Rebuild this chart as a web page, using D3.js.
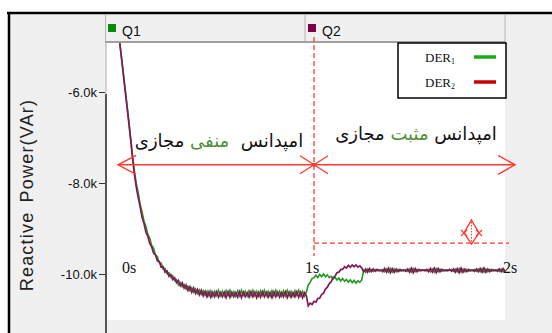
<!DOCTYPE html>
<html><head><meta charset="utf-8">
<script src="https://cdn.jsdelivr.net/npm/d3@7"></script>
<style>body{margin:0;background:#fff}svg{display:block}</style>
</head><body><svg id="c" width="552" height="333"></svg>
<script>
// ---- data (kVAr), sampled every 0.01 s starting at t = -0.02 s ----
const tStart = -0.02, dt = 0.01;
const der1 = [
 -4.80,-5.16,
 -5.52,-5.89,-6.25,-6.62,-7.00,-7.40,-7.74,-8.02,-8.22,-8.47,
 -8.64,-8.84,-8.95,-9.13,-9.21,-9.37,-9.43,-9.58,-9.62,-9.75,
 -9.76,-9.89,-9.88,-9.99,-9.97,-10.07,-10.04,-10.15,-10.12,-10.24,
 -10.19,-10.28,-10.23,-10.33,-10.27,-10.37,-10.30,-10.40,-10.33,-10.43,
 -10.35,-10.45,-10.37,-10.47,-10.38,-10.48,-10.37,-10.49,-10.38,-10.47,
 -10.36,-10.48,-10.38,-10.49,-10.37,-10.47,-10.36,-10.48,-10.39,-10.49,
 -10.37,-10.48,-10.36,-10.47,-10.38,-10.49,-10.37,-10.48,-10.36,-10.48,
 -10.38,-10.49,-10.37,-10.47,-10.36,-10.48,-10.38,-10.49,-10.37,-10.48,
 -10.36,-10.47,-10.38,-10.49,-10.37,-10.48,-10.36,-10.48,-10.38,-10.49,
 -10.37,-10.47,-10.36,-10.48,-10.38,-10.49,-10.40,-10.24,-10.18,-10.10,
 -10.08,-10.03,-10.08,-10.01,-10.06,-10.00,-10.06,-10.02,-10.08,-10.05,
 -10.11,-10.07,-10.13,-10.09,-10.15,-10.10,-10.16,-10.12,-10.18,-10.13,
 -10.19,-10.14,-10.20,-10.15,-10.18,-10.13,-9.92,-9.96,-9.89,-9.95,
 -9.90,-9.94,-9.90,-9.93,-9.91,-9.93,-9.90,-9.95,-9.89,-9.96,
 -9.88,-9.96,-9.89,-9.95,-9.90,-9.94,-9.91,-9.93,-9.90,-9.94,
 -9.89,-9.96,-9.88,-9.95,-9.90,-9.93,-9.91,-9.92,-9.91,-9.93,
 -9.90,-9.95,-9.89,-9.96,-9.88,-9.95,-9.89,-9.94,-9.91,-9.93,
 -9.91,-9.92,-9.90,-9.94,-9.89,-9.95,-9.88,-9.96,-9.89,-9.95,
 -9.90,-9.94,-9.91,-9.93,-9.90,-9.94,-9.89,-9.95,-9.88,-9.96,
 -9.89,-9.95,-9.90,-9.94,-9.91,-9.93,-9.90,-9.94,-9.89,-9.95,
 -9.90
];
const der2 = [
 -4.82,-5.18,
 -5.55,-5.92,-6.29,-6.66,-7.05,-7.46,-7.82,-8.10,-8.33,-8.53,
 -8.76,-8.89,-9.08,-9.17,-9.33,-9.40,-9.54,-9.58,-9.71,-9.73,
 -9.85,-9.84,-9.96,-9.93,-10.05,-10.01,-10.12,-10.08,-10.19,-10.14,
 -10.26,-10.19,-10.31,-10.24,-10.36,-10.28,-10.40,-10.31,-10.43,-10.34,
 -10.46,-10.36,-10.48,-10.38,-10.50,-10.39,-10.51,-10.40,-10.50,-10.39,
 -10.51,-10.41,-10.50,-10.40,-10.52,-10.39,-10.51,-10.40,-10.50,-10.41,
 -10.51,-10.39,-10.52,-10.40,-10.50,-10.41,-10.51,-10.39,-10.50,-10.40,
 -10.52,-10.41,-10.51,-10.39,-10.50,-10.40,-10.51,-10.41,-10.52,-10.39,
 -10.50,-10.40,-10.51,-10.41,-10.50,-10.39,-10.52,-10.40,-10.51,-10.41,
 -10.50,-10.39,-10.51,-10.40,-10.52,-10.41,-10.48,-10.70,-10.64,-10.67,
 -10.60,-10.62,-10.54,-10.53,-10.45,-10.42,-10.33,-10.29,-10.21,-10.17,
 -10.08,-10.05,-9.97,-9.96,-9.90,-9.90,-9.84,-9.87,-9.81,-9.85,
 -9.80,-9.84,-9.80,-9.85,-9.82,-9.87,-9.95,-9.89,-9.96,-9.88,
 -9.95,-9.89,-9.94,-9.90,-9.93,-9.91,-9.95,-9.88,-9.96,-9.87,
 -9.97,-9.88,-9.96,-9.89,-9.95,-9.90,-9.93,-9.91,-9.94,-9.89,
 -9.96,-9.87,-9.97,-9.88,-9.95,-9.90,-9.93,-9.91,-9.93,-9.90,
 -9.95,-9.88,-9.96,-9.87,-9.97,-9.88,-9.95,-9.90,-9.93,-9.91,
 -9.93,-9.90,-9.94,-9.89,-9.96,-9.88,-9.97,-9.87,-9.96,-9.89,
 -9.95,-9.90,-9.93,-9.91,-9.94,-9.89,-9.95,-9.88,-9.96,-9.87,
 -9.96,-9.89,-9.95,-9.90,-9.93,-9.91,-9.94,-9.89,-9.95,-9.88,
 -9.94
];
const yTicks = [-10, -8, -6];
const timeMarks = [0, 1, 2];
const timeLabels = ["0s", "1s", "2s"];
const headerLabels = ["Q1", "Q2"];
const legendNames = ["DER", "DER"];
const legendSubs = ["1", "2"];
const negWords = ["امپدانس", "منفی", "مجازی"];
const posWords = ["امپدانس", "مثبت", "مجازی"];
const switchTime = 1;
const refLevel = -9.32;   // horizontal dashed reference (kVAr)
const arrowLevel = -7.6;  // level of the red arrow

// ---- drawing ----
const svg = d3.select("#c");
const L = 106, R = 505, T = 43, B = 320;
const x = d3.scaleLinear().domain([0, 2]).range([123, 505]);
const y = d3.scaleLinear().domain([-10, -6]).range([274, 92]);

svg.append("rect").attr("width", 552).attr("height", 333).attr("fill", "#fff");
svg.append("rect").attr("x", 10).attr("y", 14).attr("width", 542).attr("height", 319).attr("fill", "#f0f0f0");
svg.append("rect").attr("x", L).attr("y", T).attr("width", R - L).attr("height", B - T).attr("fill", "#fff");

// outer frame
svg.append("line").attr("x1", 7).attr("x2", 552).attr("y1", 13).attr("y2", 13).attr("stroke", "#000").attr("stroke-width", 2.5);
svg.append("line").attr("x1", 9).attr("x2", 9).attr("y1", 12).attr("y2", 333).attr("stroke", "#000").attr("stroke-width", 2.5);

// header
const hdr = svg.append("g");
hdr.append("line").attr("x1", L - 0.5).attr("x2", L - 0.5).attr("y1", 15).attr("y2", 43).attr("stroke", "#b4b4b4");
hdr.append("line").attr("x1", 305).attr("x2", 305).attr("y1", 15).attr("y2", 42).attr("stroke", "#b4b4b4");
hdr.append("line").attr("x1", R).attr("x2", R).attr("y1", 15).attr("y2", 42).attr("stroke", "#b4b4b4");
hdr.append("line").attr("x1", L - 1).attr("x2", R + 0.5).attr("y1", 42).attr("y2", 42).attr("stroke", "#a0a0a0").attr("stroke-width", 2);
const hdrColors = ["#0a8a0a", "#800045"];
const hdrX = [108, 308];
headerLabels.forEach((lab, i) => {
  hdr.append("rect").attr("x", hdrX[i]).attr("y", 24).attr("width", 8).attr("height", 8).attr("fill", hdrColors[i]);
  hdr.append("text").attr("x", hdrX[i] + 14).attr("y", 36).attr("font-family", "Liberation Sans, Arial, sans-serif")
    .attr("font-size", 14).attr("fill", "#111").text(lab);
});

// y axis
svg.append("line").attr("x1", L).attr("x2", L).attr("y1", T).attr("y2", 94).attr("stroke", "#b0b0b0");
svg.append("line").attr("x1", L).attr("x2", L).attr("y1", 94).attr("y2", 333).attr("stroke", "#555").attr("stroke-width", 2);
const ax = svg.append("g").attr("transform", `translate(${L - 1},0)`)
  .call(d3.axisLeft(y).tickValues(yTicks).tickSize(6).tickPadding(2).tickFormat(d => d.toFixed(1) + "k"));
ax.select(".domain").remove();
ax.selectAll("line").attr("stroke", "#333");
ax.selectAll("text").attr("font-family", "Liberation Sans, Arial, sans-serif").attr("font-size", 13).attr("fill", "#111");

svg.append("text").attr("transform", "translate(33,195) rotate(-90)").attr("text-anchor", "middle")
  .attr("font-family", "Liberation Sans, Arial, sans-serif").attr("font-size", 18).attr("letter-spacing", 1.2)
  .attr("word-spacing", 3).attr("fill", "#222").text("Reactive Power(VAr)");

// curves
svg.append("clipPath").attr("id", "pc").append("rect").attr("x", L + 1).attr("y", T).attr("width", R - L - 1).attr("height", B - T);
const line = d3.line().x((d, i) => x(tStart + i * dt)).y(d => y(d));
const cg = svg.append("g").attr("clip-path", "url(#pc)");
cg.append("path").datum(der1).attr("d", line).attr("fill", "none").attr("stroke", "#1f9a1f").attr("stroke-width", 1.6);
cg.append("path").datum(der2).attr("d", line).attr("fill", "none").attr("stroke", "#86185a").attr("stroke-width", 1.7);

// time labels
const tdx = [-1, -9, -2];
timeLabels.forEach((lab, i) => {
  svg.append("text").attr("x", x(timeMarks[i]) + tdx[i]).attr("y", 273).attr("font-family", "Liberation Serif, Times New Roman, serif")
    .attr("font-size", 16).attr("fill", "#111").text(lab);
});

// red annotations
const red = "#ff3a30";
const ag = svg.append("g").attr("stroke", red).attr("fill", "none");
const xs = x(switchTime), ya = y(arrowLevel), yr = y(refLevel);
ag.append("line").attr("x1", xs).attr("x2", xs).attr("y1", 37).attr("y2", 256).attr("stroke-width", 1.3).attr("stroke-dasharray", "5,3");
ag.append("line").attr("x1", xs).attr("x2", 509).attr("y1", yr).attr("y2", yr).attr("stroke-width", 1.3).attr("stroke-dasharray", "5,3");
ag.append("line").attr("x1", 118).attr("x2", 515).attr("y1", ya).attr("y2", ya).attr("stroke-width", 1.4);
ag.append("path").attr("d", `M136,${ya - 9.5}L118,${ya}L136,${ya + 9.5}`).attr("stroke-width", 1.4);
ag.append("path").attr("d", `M498,${ya - 9.5}L515,${ya}L498,${ya + 9.5}`).attr("stroke-width", 1.4);
ag.append("path").attr("d", `M${xs - 14},${ya - 9}L${xs + 14},${ya + 9}M${xs - 14},${ya + 9}L${xs + 14},${ya - 9}`).attr("stroke-width", 1.3);
ag.append("circle").attr("cx", xs).attr("cy", ya).attr("r", 2).attr("fill", red).attr("stroke", "none");
const dx0 = 471.5;
ag.append("path").attr("d", `M${dx0},220L${dx0 + 7.5},233L${dx0},${yr + 1}L${dx0 - 7.5},233Z`).attr("stroke-width", 1.4);
ag.append("line").attr("x1", dx0).attr("x2", dx0).attr("y1", 222).attr("y2", yr).attr("stroke-width", 1).attr("stroke-dasharray", "1.5,1.5");
[dx0 - 7.5, dx0 + 7.5].forEach(cx => {
  ag.append("path").attr("d", `M${cx - 3},230L${cx + 3},236M${cx - 3},236L${cx + 3},230`).attr("stroke-width", 1.2);
});

// persian texts
function persian(words, cx, by, gaps) {
  const t = svg.append("text").attr("x", cx).attr("y", by).attr("direction", "rtl").attr("text-anchor", "middle")
    .attr("font-family", "DejaVu Sans, Noto Sans, sans-serif").attr("font-size", 18).attr("fill", "#111")
    .style("white-space", "pre");
  t.append("tspan").text(words[0] + gaps[0]);
  t.append("tspan").attr("fill", "#4e8f35").text(words[1]);
  t.append("tspan").text(gaps[1] + words[2]);
}
persian(negWords, 219, 147, ["  ", " "]);
persian(posWords, 416, 140, [" ", " "]);

// legend
const lg = svg.append("g");
lg.append("rect").attr("x", 398).attr("y", 43).attr("width", 108).attr("height", 55).attr("fill", "#fff").attr("stroke", "#000").attr("stroke-width", 1.5);
const lgColors = ["#1aaa1a", "#c80000"];
legendNames.forEach((n, i) => {
  const by = 62 + i * 25;
  const tx = lg.append("text").attr("x", 425).attr("y", by).attr("font-family", "Liberation Serif, Times New Roman, serif")
    .attr("font-size", 13).attr("fill", "#111");
  tx.append("tspan").text(n);
  tx.append("tspan").attr("font-size", 8).attr("dy", 2).text(legendSubs[i]);
  lg.append("line").attr("x1", 474).attr("x2", 496).attr("y1", by - 5).attr("y2", by - 5).attr("stroke", lgColors[i]).attr("stroke-width", 3.5);
});
</script></body></html>
